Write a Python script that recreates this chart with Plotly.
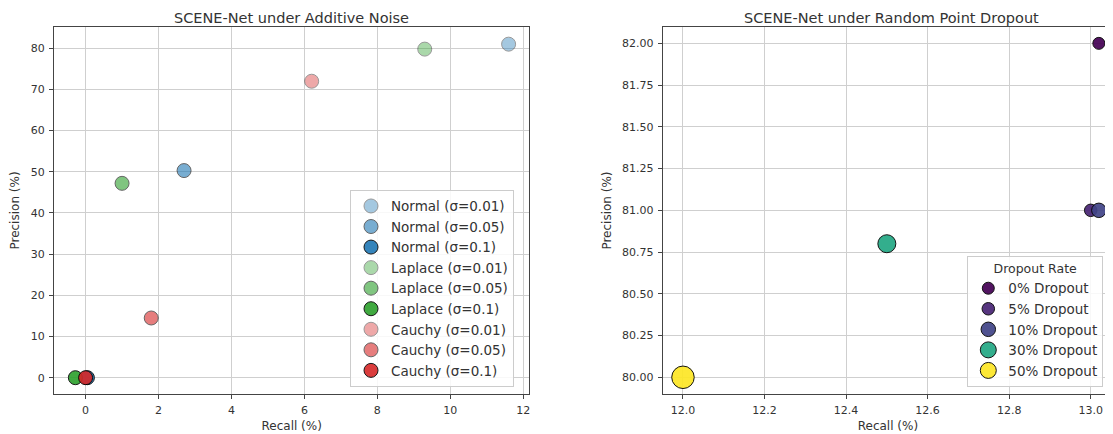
import plotly.graph_objects as go

# ---------------- data ----------------
noise_labels = ["Normal (σ=0.01)", "Normal (σ=0.05)", "Normal (σ=0.1)",
                "Laplace (σ=0.01)", "Laplace (σ=0.05)", "Laplace (σ=0.1)",
                "Cauchy (σ=0.01)", "Cauchy (σ=0.05)", "Cauchy (σ=0.1)"]
noise_recall = [11.6, 2.7, 0.05, 9.3, 1.0, -0.28, 6.2, 1.8, 0.0]
noise_precision = [81.0, 50.3, 0.0, 79.8, 47.2, 0.0, 72.0, 14.5, 0.0]

dropout_labels = ["0% Dropout", "5% Dropout", "10% Dropout", "30% Dropout", "50% Dropout"]
dropout_recall = [13.02, 13.0, 13.02, 12.5, 12.0]
dropout_precision = [82.0, 81.0, 81.0, 80.8, 80.0]

x1_ticks = [0, 2, 4, 6, 8, 10, 12]
y1_ticks = [0, 10, 20, 30, 40, 50, 60, 70, 80]
x2_ticks = [12.0, 12.2, 12.4, 12.6, 12.8, 13.0]
y2_ticks = [80.0, 80.25, 80.5, 80.75, 81.0, 81.25, 81.5, 81.75, 82.0]

# ---------------- styles ----------------
noise_colors = ["#1f77b4"] * 3 + ["#2ca02c"] * 3 + ["#d62728"] * 3
noise_alpha = [0.4, 0.6, 0.9] * 3
dropout_colors = ["#440154", "#482475", "#414487", "#22a884", "#fde725"]
dropout_sizes = [12, 12.5, 14.5, 18, 22.5]

FONT = "DejaVu Sans"
TXT = "#333333"
GRID = "#cfcfcf"
FRAME = "#444444"

# the page body has an 8px margin, so the figure is drawn 8px in from the window corner
OFF = 8
W, H = 1113 - OFF, 434 - OFF
ML, MR, MT, MB = 46, 0, 19, 40
PW = W - ML - MR
PH = H - MT - MB


def px_x(p):  # reference-window pixel -> plot-area fraction
    return (p - OFF - ML) / PW


def px_y(p):
    return (H - MB - (p - OFF)) / PH


fig = go.Figure()

for lab, x, y, c, a in zip(noise_labels, noise_recall, noise_precision, noise_colors, noise_alpha):
    fig.add_trace(go.Scatter(
        x=[x], y=[y], mode="markers", name=lab, legend="legend",
        xaxis="x", yaxis="y",
        marker=dict(size=14, color=c, opacity=a, line=dict(color="black", width=1)),
    ))

for lab, x, y, c, s in zip(dropout_labels, dropout_recall, dropout_precision, dropout_colors, dropout_sizes):
    fig.add_trace(go.Scatter(
        x=[x], y=[y], mode="markers", name=lab, legend="legend2",
        xaxis="x2", yaxis="y2",
        marker=dict(size=s, color=c, opacity=0.92, line=dict(color="black", width=1)),
    ))

axis_common = dict(
    showgrid=True, gridcolor=GRID, gridwidth=1,
    zeroline=False, ticks="outside", ticklen=4, tickcolor=FRAME,
    showline=True, linecolor=FRAME, linewidth=1,
    tickfont=dict(family=FONT, size=11, color=TXT),
    ticklabelstandoff=2,
)
title_font = dict(size=12, family=FONT, color=TXT)

fig.update_layout(
    width=W, height=H,
    margin=dict(l=ML, r=MR, t=MT, b=MB, autoexpand=False),
    paper_bgcolor="white", plot_bgcolor="white",
    font=dict(family=FONT, color=TXT),
    xaxis=dict(axis_common, domain=[0, px_x(529.4)], range=[-0.866, 12.17],
               tickvals=x1_ticks, mirror=True, anchor="y",
               title=dict(text="Recall (%)", font=title_font, standoff=5)),
    yaxis=dict(axis_common, domain=[0, 1], range=[-3.96, 85.17],
               tickvals=y1_ticks, mirror=True, anchor="x",
               title=dict(text="Precision (%)", font=title_font, standoff=8)),
    xaxis2=dict(axis_common, domain=[px_x(662.8), 1], range=[11.9505, 13.0547],
                tickvals=x2_ticks, tickformat=".1f", mirror=True, anchor="y2",
                title=dict(text="Recall (%)", font=title_font, standoff=5)),
    yaxis2=dict(axis_common, domain=[0, 1], range=[79.90, 82.098],
                tickvals=y2_ticks, tickformat=".2f", mirror=False, anchor="x2",
                title=dict(text="Precision (%)", font=title_font, standoff=7)),
    legend=dict(x=px_x(350.0), y=px_y(386.7), xanchor="left", yanchor="bottom",
                bgcolor="rgba(255,255,255,0.85)", bordercolor="#cccccc", borderwidth=1,
                font=dict(family=FONT, size=13.5, color=TXT), itemsizing="trace"),
    legend2=dict(x=px_x(967.3), y=px_y(386.7), xanchor="left", yanchor="bottom",
                 bgcolor="rgba(255,255,255,0.85)", bordercolor="#cccccc", borderwidth=1,
                 font=dict(family=FONT, size=13.5, color=TXT), itemsizing="trace",
                 title=dict(text="Dropout Rate", side="top center",
                            font=dict(family=FONT, size=12.5, color=TXT))),
    annotations=[
        dict(text="SCENE-Net under Additive Noise", xref="paper", yref="paper",
             x=(px_x(53.8) + px_x(529.4)) / 2, y=1, xanchor="center", yanchor="bottom",
             yshift=-1, showarrow=False, font=dict(family=FONT, size=14.5, color=TXT)),
        dict(text="SCENE-Net under Random Point Dropout", xref="paper", yref="paper",
             x=px_x(891.4), y=1, xanchor="center", yanchor="bottom",
             yshift=-1, showarrow=False, font=dict(family=FONT, size=14.5, color=TXT)),
    ],
)

fig.write_html("out.html")
